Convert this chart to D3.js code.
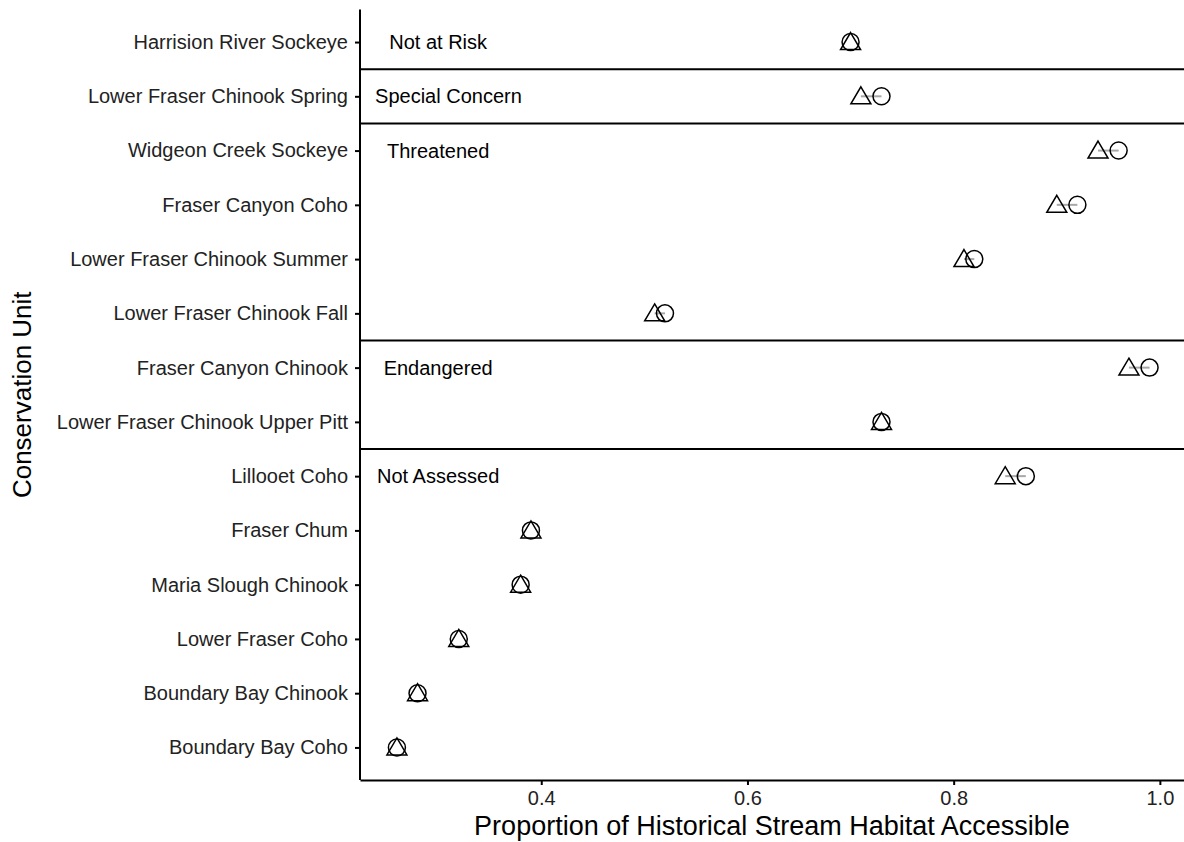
<!DOCTYPE html>
<html>
<head>
<meta charset="utf-8">
<script src="https://cdn.jsdelivr.net/npm/d3@7"></script>
<style>
  html, body { margin: 0; padding: 0; background: #fff; }
  svg { display: block; font-family: "Liberation Sans", Arial, sans-serif; }
</style>
</head>
<body>
<svg id="chart" width="1184" height="842"></svg>
<script>
// Conservation units, top to bottom
const units = [
  "Harrision River Sockeye",
  "Lower Fraser Chinook Spring",
  "Widgeon Creek Sockeye",
  "Fraser Canyon Coho",
  "Lower Fraser Chinook Summer",
  "Lower Fraser Chinook Fall",
  "Fraser Canyon Chinook",
  "Lower Fraser Chinook Upper Pitt",
  "Lillooet Coho",
  "Fraser Chum",
  "Maria Slough Chinook",
  "Lower Fraser Coho",
  "Boundary Bay Chinook",
  "Boundary Bay Coho"
];
// Proportion accessible (triangle marker)
const triangleValues = [0.70, 0.71, 0.94, 0.90, 0.81, 0.51, 0.97, 0.73, 0.85, 0.39, 0.38, 0.32, 0.28, 0.26];
// Proportion accessible (circle marker)
const circleValues   = [0.70, 0.73, 0.96, 0.92, 0.82, 0.52, 0.99, 0.73, 0.87, 0.39, 0.38, 0.32, 0.28, 0.26];

// COSEWIC status groups: label, first unit in group, label x (data units)
const statusLabels = ["Not at Risk", "Special Concern", "Threatened", "Endangered", "Not Assessed"];
const statusFirstUnit = ["Harrision River Sockeye", "Lower Fraser Chinook Spring", "Widgeon Creek Sockeye", "Fraser Canyon Chinook", "Lillooet Coho"];
const statusLabelX = [0.30, 0.31, 0.30, 0.30, 0.30];

const xTicks = [0.4, 0.6, 0.8, 1.0];

const svg = d3.select("#chart");
const margin = { left: 360, right: 0, top: 9.5, bottom: 842 - 780 };
const W = 1184, H = 842;
const labelSize = 20;

const x = d3.scaleLinear()
  .domain([0.2242, 1.0234])
  .range([margin.left, W - margin.right]);

const y = d3.scalePoint()
  .domain(units)
  .range([margin.top, H - margin.bottom])
  .padding(0.6);

const step = y.step();

// Status group separators
statusFirstUnit.forEach((u, i) => {
  if (i === 0) return;
  const yy = y(u) - step / 2;
  svg.append("line")
    .attr("x1", margin.left).attr("x2", W)
    .attr("y1", yy).attr("y2", yy)
    .attr("stroke", "#000").attr("stroke-width", 2);
});

// Status labels
statusLabels.forEach((lab, i) => {
  svg.append("text")
    .attr("x", x(statusLabelX[i]))
    .attr("y", y(statusFirstUnit[i]))
    .attr("dy", "0.35em")
    .attr("text-anchor", "middle")
    .attr("font-size", labelSize)
    .attr("fill", "#000")
    .text(lab);
});

// Connecting segments
const rows = units.map((u, i) => ({ unit: u, tri: triangleValues[i], circ: circleValues[i] }));

svg.append("g").selectAll("line")
  .data(rows)
  .join("line")
  .attr("x1", d => x(d.tri))
  .attr("x2", d => x(d.circ))
  .attr("y1", d => y(d.unit))
  .attr("y2", d => y(d.unit))
  .attr("stroke", "#a8a8a8")
  .attr("stroke-width", 2);

// Circle markers
svg.append("g").selectAll("circle")
  .data(rows)
  .join("circle")
  .attr("cx", d => x(d.circ))
  .attr("cy", d => y(d.unit))
  .attr("r", 8.5)
  .attr("fill", "none")
  .attr("stroke", "#000")
  .attr("stroke-width", 1.5);

// Triangle markers
const triPath = "M0,-9.5 L10,7.5 L-10,7.5 Z";
svg.append("g").selectAll("path")
  .data(rows)
  .join("path")
  .attr("transform", d => `translate(${x(d.tri)},${y(d.unit)})`)
  .attr("d", triPath)
  .attr("fill", "none")
  .attr("stroke", "#000")
  .attr("stroke-width", 1.5)
  .attr("stroke-linejoin", "miter");

// X axis
const xAxis = svg.append("g")
  .attr("transform", `translate(0,${H - margin.bottom})`)
  .call(d3.axisBottom(x).tickValues(xTicks).tickFormat(d3.format(".1f")).tickSize(5).tickSizeOuter(0));
xAxis.select(".domain").attr("stroke", "#000").attr("stroke-width", 2);
xAxis.selectAll(".tick line").attr("stroke", "#000").attr("stroke-width", 2);
xAxis.selectAll(".tick text")
  .attr("font-size", labelSize).attr("fill", "#222")
  .attr("font-family", "Liberation Sans, Arial, sans-serif")
  .attr("dy", "0.85em");

// Y axis
const yAxis = svg.append("g")
  .attr("transform", `translate(${margin.left},0)`)
  .call(d3.axisLeft(y).tickSize(5).tickSizeOuter(0));
yAxis.select(".domain")
  .attr("d", `M0,${margin.top}V${H - margin.bottom}`)
  .attr("stroke", "#000").attr("stroke-width", 2);
yAxis.selectAll(".tick line").attr("stroke", "#000").attr("stroke-width", 2);
yAxis.selectAll(".tick text")
  .attr("font-size", labelSize).attr("fill", "#222")
  .attr("font-family", "Liberation Sans, Arial, sans-serif")
  .attr("x", -12);

// Axis titles
svg.append("text")
  .attr("x", (margin.left + W) / 2)
  .attr("y", 835)
  .attr("text-anchor", "middle")
  .attr("font-size", 27)
  .attr("fill", "#000")
  .text("Proportion of Historical Stream Habitat Accessible");

svg.append("text")
  .attr("transform", `translate(31,${(margin.top + H - margin.bottom) / 2}) rotate(-90)`)
  .attr("text-anchor", "middle")
  .attr("font-size", 26)
  .attr("fill", "#000")
  .text("Conservation Unit");
</script>
</body>
</html>
